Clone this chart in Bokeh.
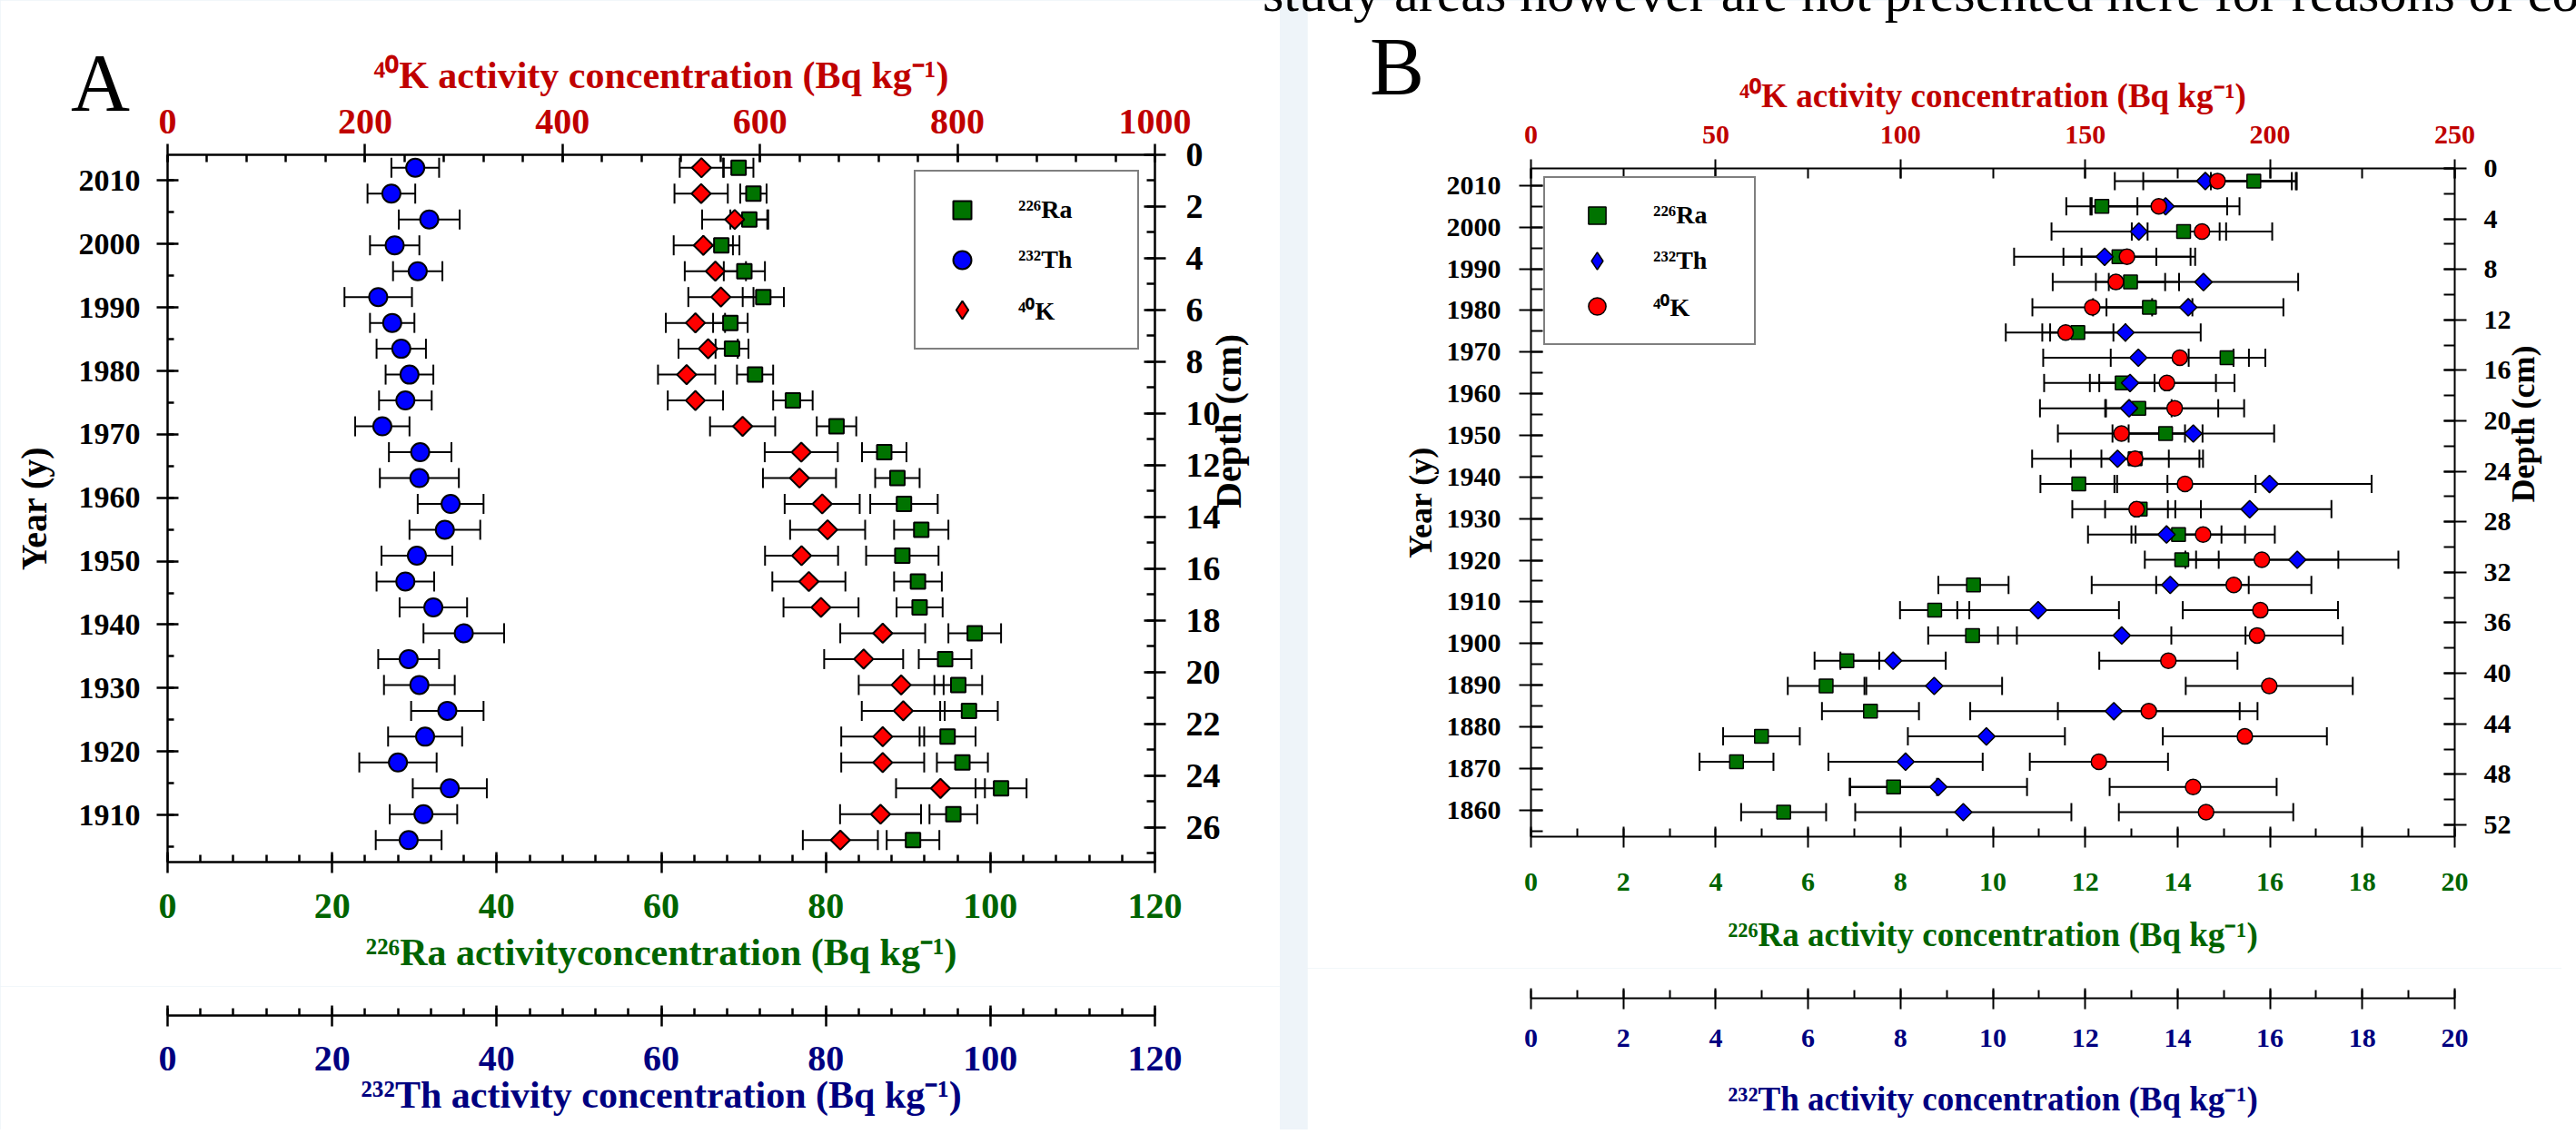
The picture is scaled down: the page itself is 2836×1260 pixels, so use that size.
import math
from bokeh.plotting import figure
from bokeh.models import (ColumnDataSource, Range1d, LinearAxis, FixedTicker, Whisker,
                          TeeHead, Legend, LegendItem, Div)
from bokeh.layouts import row, column
from bokeh.embed import file_html
from bokeh.resources import INLINE
from bokeh.core.validation import silence
from bokeh.core.validation.warnings import MISSING_RENDERERS

silence(MISSING_RENDERERS, True)

SERIF = "Liberation Serif"
GREEN = "#007300"
BLUE = "#0000FF"
RED = "#FF0000"
K_TXT = "#C00000"
RA_TXT = "#006400"
TH_TXT = "#000080"

# ---------------- Panel A data (depth in cm) ----------------
depth_A = [0.5, 1.5, 2.5, 3.5, 4.5, 5.5, 6.5, 7.5, 8.5, 9.5, 10.5, 11.5, 12.5, 13.5,
           14.5, 15.5, 16.5, 17.5, 18.5, 19.5, 20.5, 21.5, 22.5, 23.5, 24.5, 25.5, 26.5]
ra_A = [69.4, 71.2, 70.7, 67.3, 70.1, 72.4, 68.4, 68.6, 71.4, 76.0, 81.3, 87.1, 88.7, 89.5,
        91.6, 89.3, 91.2, 91.4, 98.1, 94.5, 96.1, 97.4, 94.8, 96.6, 101.3, 95.5, 90.6]
ra_A_err = [1.8, 1.6, 2.3, 2.2, 2.5, 2.5, 2.1, 2.0, 2.2, 2.4, 2.4, 2.7, 2.7, 4.1,
            3.3, 4.4, 2.9, 2.8, 3.2, 3.2, 2.9, 3.5, 3.4, 3.1, 3.1, 2.9, 3.2]
th_A = [30.1, 27.2, 31.8, 27.6, 30.4, 25.6, 27.3, 28.4, 29.4, 28.9, 26.1, 30.7, 30.6, 34.4,
        33.7, 30.3, 28.9, 32.3, 36.0, 29.3, 30.6, 34.0, 31.3, 28.0, 34.3, 31.1, 29.3]
th_A_err = [2.9, 2.9, 3.7, 3.0, 3.0, 4.1, 2.7, 3.0, 2.9, 3.2, 3.3, 3.8, 4.8, 4.0,
            4.3, 4.3, 3.5, 4.1, 4.9, 3.7, 4.3, 4.4, 4.5, 4.7, 4.5, 4.1, 4.0]
k_A = [540.7, 540.4, 574.4, 542.6, 554.8, 560.4, 534.6, 547.5, 525.7, 534.6, 582.4, 641.8,
       640.0, 663.0, 668.5, 642.1, 649.5, 661.8, 724.3, 705.0, 743.0, 745.1, 724.3, 724.3,
       782.8, 722.1, 681.4]
k_A_err = [22, 27, 33, 30, 31, 33, 30, 30, 29, 28, 33, 37, 37, 38, 38, 37, 37, 38, 43, 40,
           43, 42, 42, 42, 45, 41, 38]

# ---------------- Panel B data (depth in cm) ----------------
depth_B = [1, 3, 5, 7, 9, 11, 13, 15, 17, 19, 21, 23, 25, 27, 29, 31, 33, 35, 37, 39, 41,
           43, 45, 47, 49, 51]
ra_B = [15.65, 12.36, 14.13, 12.73, 12.98, 13.39, 11.84, 15.07, 12.80, 13.16, 13.74, 13.08,
        11.86, 13.19, 14.02, 14.09, 9.58, 8.74, 9.56, 6.84, 6.39, 7.35, 4.99, 4.45, 7.85, 5.47]
ra_B_err = [0.93, 0.77, 0.78, 0.81, 0.75, 0.93, 0.77, 0.83, 0.70, 0.71, 0.80, 0.73, 0.83,
            0.76, 0.93, 0.80, 0.76, 0.75, 0.96, 0.70, 0.83, 1.05, 0.83, 0.80, 0.94, 0.92]
th_B = [14.60, 13.74, 13.16, 12.42, 14.56, 14.23, 12.87, 13.15, 12.97, 12.95, 14.34, 12.70,
        15.99, 15.56, 13.76, 16.59, 13.84, 10.98, 12.79, 7.84, 8.73, 12.62, 9.86, 8.11, 8.82, 9.36]
th_B_err = [1.96, 1.60, 1.89, 1.96, 2.05, 2.06, 1.63, 2.06, 1.86, 1.93, 1.75, 1.85, 2.21,
            1.77, 1.70, 2.19, 1.70, 1.75, 2.68, 1.14, 1.47, 3.11, 1.70, 1.67, 1.92, 2.34]
k_B = [185.8, 169.9, 181.6, 161.3, 158.3, 151.9, 144.7, 175.6, 172.1, 174.2, 159.8, 163.5,
       177.0, 163.9, 181.9, 197.8, 190.2, 197.4, 196.5, 172.5, 199.8, 167.2, 193.2, 153.7,
       179.2, 182.7]
k_B_err = [20.1, 18.5, 19.0, 17.2, 17.1, 16.2, 16.2, 18.7, 18.3, 18.8, 17.2, 17.4, 19.1,
           17.4, 19.4, 20.7, 21.0, 21.0, 23.2, 18.7, 22.6, 24.6, 22.2, 18.7, 22.6, 23.6]

# axis tick values
k_ticks_A = [0, 200, 400, 600, 800, 1000]
conc_ticks_A = [0, 20, 40, 60, 80, 100, 120]
year_ticks_A = [1910, 1920, 1930, 1940, 1950, 1960, 1970, 1980, 1990, 2000, 2010]
depth_ticks_A = [0, 2, 4, 6, 8, 10, 12, 14, 16, 18, 20, 22, 24, 26]
k_ticks_B = [0, 50, 100, 150, 200, 250]
conc_ticks_B = [0, 2, 4, 6, 8, 10, 12, 14, 16, 18, 20]
year_ticks_B = [1860, 1870, 1880, 1890, 1900, 1910, 1920, 1930, 1940, 1950, 1960, 1970,
                1980, 1990, 2000, 2010]
depth_ticks_B = [0, 4, 8, 12, 16, 20, 24, 28, 32, 36, 40, 44, 48, 52]

K_LABEL = "\u2074\u2070K activity concentration (Bq kg\u207b\u00b9)"
RA_LABEL_A = "\u00b2\u00b2\u2076Ra activityconcentration (Bq kg\u207b\u00b9)"
RA_LABEL_B = "\u00b2\u00b2\u2076Ra activity concentration (Bq kg\u207b\u00b9)"
TH_LABEL = "\u00b2\u00b3\u00b2Th activity concentration (Bq kg\u207b\u00b9)"
LEG_RA = "\u00b2\u00b2\u2076Ra"
LEG_TH = "\u00b2\u00b3\u00b2Th"
LEG_K = "\u2074\u2070K"
PAGE_LINE = "study areas however are not presented here for reasons of co"


def src_for(depth, ra, ra_e, th, th_e, k, k_e):
    return ColumnDataSource(dict(
        depth=depth, ra=ra, th=th, k=k,
        ra_lo=[v - e for v, e in zip(ra, ra_e)], ra_hi=[v + e for v, e in zip(ra, ra_e)],
        th_lo=[v - e for v, e in zip(th, th_e)], th_hi=[v + e for v, e in zip(th, th_e)],
        k_lo=[v - e for v, e in zip(k, k_e)], k_hi=[v + e for v, e in zip(k, k_e)],
    ))


def style_axis(ax, color, tick_px, title_px, maj_in, maj_out, min_in, lw, lab_so, tit_so):
    ax.axis_line_color = "black"
    ax.axis_line_width = lw
    ax.major_tick_line_color = "black"
    ax.major_tick_line_width = lw
    ax.minor_tick_line_color = "black"
    ax.minor_tick_line_width = lw
    ax.major_tick_in = maj_in
    ax.major_tick_out = maj_out
    ax.minor_tick_in = min_in
    ax.minor_tick_out = 0
    ax.major_label_text_font = SERIF
    ax.major_label_text_font_style = "bold"
    ax.major_label_text_font_size = f"{tick_px}px"
    ax.major_label_text_color = color
    ax.major_label_standoff = lab_so
    ax.axis_label_text_font = SERIF
    ax.axis_label_text_font_style = "bold"
    ax.axis_label_text_font_size = f"{title_px}px"
    ax.axis_label_text_color = color
    ax.axis_label_standoff = tit_so


def add_err(p, src, lo, hi, rname, size, lw):
    kw = {}
    if rname:
        kw["x_range_name"] = rname
    w = Whisker(source=src, base="depth", lower=lo, upper=hi, dimension="width",
                line_color="black", line_width=lw,
                upper_head=TeeHead(size=size, line_color="black", line_width=lw),
                lower_head=TeeHead(size=size, line_color="black", line_width=lw),
                level="underlay", **kw)
    p.add_layout(w)


def right_title_up(ax):
    try:
        ax.axis_label_orientation = math.pi / 2
    except Exception:
        pass


def axis_strip(width, height, xr, mb_left, mb_right, mb_top, mb_bottom):
    p = figure(width=width, height=height, x_range=xr, y_range=Range1d(0, 1),
               x_axis_location="below", y_axis_location=None,
               min_border_left=mb_left, min_border_right=mb_right,
               min_border_top=mb_top, min_border_bottom=mb_bottom,
               toolbar_location=None, output_backend="svg", outline_line_color=None,
               background_fill_color="white", border_fill_color="white")
    p.grid.visible = False
    return p


def make_legend(items, loc, gw, gh, ls, lw, sp, pad):
    return Legend(items=items, location=loc, orientation="vertical",
                  glyph_width=gw, glyph_height=gh, label_standoff=ls, label_width=lw,
                  spacing=sp, padding=pad, margin=0,
                  border_line_color="black", border_line_width=2,
                  background_fill_color="white", background_fill_alpha=1.0,
                  label_text_font=SERIF, label_text_font_style="bold",
                  label_text_font_size="28px", label_text_color="black")


def float_text(text, left, top, size_px):
    return Div(text=text, styles={
        "position": "absolute", "left": f"{left}px", "top": f"{top}px",
        "z-index": "20", "font-family": "'Liberation Serif', serif",
        "font-size": f"{size_px}px", "line-height": "1", "color": "black",
        "white-space": "nowrap", "margin": "0", "padding": "0"})


# =================== Panel A ===================
thA_range = Range1d(0, 120)
pA = figure(width=1409, height=1086, x_range=Range1d(0, 120), y_range=Range1d(27.35, 0),
            x_axis_location="below", y_axis_location="right",
            min_border_left=184, min_border_right=138, min_border_top=170,
            min_border_bottom=137, toolbar_location=None, output_backend="svg",
            outline_line_color=None, background_fill_color="white",
            border_fill_color="white")
pA.grid.visible = False
pA.extra_x_ranges = {"k": Range1d(0, 1000), "th": thA_range}
pA.extra_y_ranges = {"year": Range1d(1902.57, 2014.07)}

ra_ax = pA.below[0]
ra_ax.ticker = FixedTicker(ticks=conc_ticks_A, minor_ticks=list(range(0, 121, 4)))
ra_ax.axis_label = RA_LABEL_A
style_axis(ra_ax, RA_TXT, 40, 42, 11, 12, 8, 2.5, 23, 12)

dep_ax = pA.right[0]
dep_ax.ticker = FixedTicker(ticks=depth_ticks_A, minor_ticks=list(range(0, 28)))
dep_ax.axis_label = "Depth (cm)"
style_axis(dep_ax, "black", 38, 40, 12, 12, 9, 2.5, 22, 6)
right_title_up(dep_ax)

k_ax = LinearAxis(x_range_name="k", axis_label=K_LABEL,
                  ticker=FixedTicker(ticks=k_ticks_A, minor_ticks=list(range(0, 1001, 40))))
style_axis(k_ax, K_TXT, 40, 42, 8, 12, 8, 2.5, 12, 12)
pA.add_layout(k_ax, "above")

yr_ax = LinearAxis(y_range_name="year", axis_label="Year (y)",
                   ticker=FixedTicker(ticks=year_ticks_A, minor_ticks=list(range(1905, 2016, 5))))
style_axis(yr_ax, "black", 34, 40, 12, 12, 7, 2.5, 18, 24)
pA.add_layout(yr_ax, "left")

srcA = src_for(depth_A, ra_A, ra_A_err, th_A, th_A_err, k_A, k_A_err)
add_err(pA, srcA, "ra_lo", "ra_hi", None, 22, 2)
add_err(pA, srcA, "th_lo", "th_hi", "th", 22, 2)
add_err(pA, srcA, "k_lo", "k_hi", "k", 22, 2)
rA_ra = pA.scatter("ra", "depth", source=srcA, marker="square", size=16,
                   fill_color=GREEN, line_color="black", line_width=2)
rA_th = pA.scatter("th", "depth", source=srcA, x_range_name="th", marker="circle", size=20,
                   fill_color=BLUE, line_color="black", line_width=2)
rA_k = pA.scatter("k", "depth", source=srcA, x_range_name="k", marker="square",
                  angle=math.pi / 4, size=15, fill_color=RED, line_color="black", line_width=2)
# hidden twin of the 40K series, only used for its diamond legend symbol
rA_k_leg = pA.scatter("k", "depth", source=srcA, x_range_name="k", marker="diamond",
                      size=22, fill_color=RED, line_color="black", line_width=2,
                      visible=False)

legA = make_legend([LegendItem(label=LEG_RA, renderers=[rA_ra]),
                    LegendItem(label=LEG_TH, renderers=[rA_th]),
                    LegendItem(label=LEG_K, renderers=[rA_k_leg])],
                   (822, 564), 68, 50, 28, 114, 5, 17)
pA.add_layout(legA)

pAT = axis_strip(1409, 158, thA_range, 184, 138, 30, 126)
th_ax = pAT.below[0]
th_ax.ticker = FixedTicker(ticks=conc_ticks_A, minor_ticks=list(range(0, 121, 4)))
th_ax.axis_label = TH_LABEL
style_axis(th_ax, TH_TXT, 40, 42, 11, 12, 8, 2.5, 22, 1)

# =================== Panel B ===================
thB_range = Range1d(0, 20)
pB = figure(width=1381, height=1066, x_range=Range1d(0, 20), y_range=Range1d(52.94, 0),
            x_axis_location="below", y_axis_location="right",
            min_border_left=246, min_border_right=114, min_border_top=185,
            min_border_bottom=145, toolbar_location=None, output_backend="svg",
            outline_line_color=None, background_fill_color="white",
            border_fill_color="white")
pB.grid.visible = False
pB.extra_x_ranges = {"k": Range1d(0, 250), "th": thB_range}
pB.extra_y_ranges = {"year": Range1d(1853.6, 2014.1)}

rab_ax = pB.below[0]
rab_ax.ticker = FixedTicker(ticks=conc_ticks_B, minor_ticks=list(range(0, 21)))
rab_ax.axis_label = RA_LABEL_B
style_axis(rab_ax, RA_TXT, 30, 37, 11, 12, 9, 2, 28, 25)

depb_ax = pB.right[0]
depb_ax.ticker = FixedTicker(ticks=depth_ticks_B, minor_ticks=list(range(0, 53, 2)))
depb_ax.axis_label = "Depth (cm)"
style_axis(depb_ax, "black", 30, 36, 12, 13, 12, 2, 19, 10)
right_title_up(depb_ax)

kb_ax = LinearAxis(x_range_name="k", axis_label=K_LABEL,
                   ticker=FixedTicker(ticks=k_ticks_B, minor_ticks=list(range(0, 251, 25))))
style_axis(kb_ax, K_TXT, 30, 37, 11, 10, 11, 2, 18, 10)
pB.add_layout(kb_ax, "above")

yrb_ax = LinearAxis(y_range_name="year", axis_label="Year (y)",
                    ticker=FixedTicker(ticks=year_ticks_B, minor_ticks=list(range(1855, 2016, 5))))
style_axis(yrb_ax, "black", 30, 36, 13, 13, 13, 2, 20, 6)
pB.add_layout(yrb_ax, "left")

srcB = src_for(depth_B, ra_B, ra_B_err, th_B, th_B_err, k_B, k_B_err)
add_err(pB, srcB, "ra_lo", "ra_hi", None, 20, 2)
add_err(pB, srcB, "th_lo", "th_hi", "th", 20, 2)
add_err(pB, srcB, "k_lo", "k_hi", "k", 20, 2)
rB_ra = pB.scatter("ra", "depth", source=srcB, marker="square", size=15,
                   fill_color=GREEN, line_color="black", line_width=1.5)
rB_th = pB.scatter("th", "depth", source=srcB, x_range_name="th", marker="square",
                   angle=math.pi / 4, size=13.5, fill_color=BLUE, line_color="black",
                   line_width=1.5)
rB_k = pB.scatter("k", "depth", source=srcB, x_range_name="k", marker="circle", size=17,
                  fill_color=RED, line_color="black", line_width=1.5)
# hidden twin of the 232Th series, only used for its diamond legend symbol
rB_th_leg = pB.scatter("th", "depth", source=srcB, x_range_name="th", marker="diamond",
                       size=20, fill_color=BLUE, line_color="black", line_width=1.5,
                       visible=False)

legB = make_legend([LegendItem(label=LEG_RA, renderers=[rB_ra]),
                    LegendItem(label=LEG_TH, renderers=[rB_th_leg]),
                    LegendItem(label=LEG_K, renderers=[rB_k])],
                   (14, 541), 80, 48, 22, 94, 2, 17)
pB.add_layout(legB)

pBT = axis_strip(1381, 178, thB_range, 246, 114, 31, 145)
thb_ax = pBT.below[0]
thb_ax.ticker = FixedTicker(ticks=conc_ticks_B, minor_ticks=list(range(0, 21)))
thb_ax.axis_label = TH_LABEL
style_axis(thb_ax, TH_TXT, 30, 37, 11, 12, 9, 2, 22, 34)

# panel letters and the cut-off line of page text above the figure
div_A = float_text("A", 78, 47, 90)
div_B = float_text("B", 1508, 29, 90)
div_line = float_text(PAGE_LINE, 1390, -38, 60)

layout = row(div_A, div_B, div_line, column(pA, pAT), column(pB, pBT), spacing=30,
             styles={"background-color": "#EEF4F9", "position": "relative"})

open("out.html", "w").write(file_html(layout, INLINE))
